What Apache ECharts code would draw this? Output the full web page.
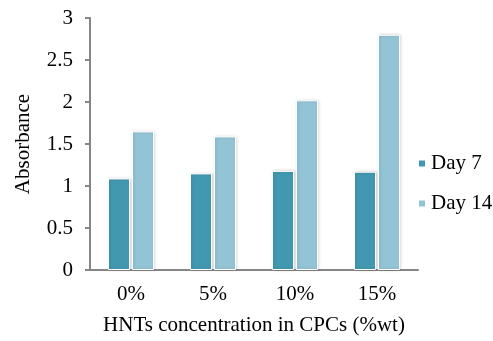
<!DOCTYPE html>
<html>
<head>
<meta charset="utf-8">
<script src="https://cdn.jsdelivr.net/npm/echarts@6/dist/echarts.min.js"></script>
<style>html,body{margin:0;padding:0;background:#fff}#c{width:493px;height:341px}</style>
</head>
<body>
<div id="c"></div>
<script>
var categories = ['0%', '5%', '10%', '15%'];
var day7 = [1.09, 1.15, 1.18, 1.17];
var day14 = [1.65, 1.59, 2.02, 2.80];
var seriesNames = ['Day 7', 'Day 14'];
var yTicks = {min: 0, max: 3, interval: 0.5};

var font = 'Liberation Serif';
var chart = echarts.init(document.getElementById('c'), null, {renderer: 'canvas'});
var barStyle = function (color) {
  return {color: color, borderColor: '#fff', borderWidth: 1,
          shadowColor: 'rgba(0,0,0,0.18)', shadowBlur: 3, shadowOffsetX: 1, shadowOffsetY: 0};
};
chart.setOption({
  animation: false,
  backgroundColor: '#fff',
  textStyle: {fontFamily: font, color: '#000'},
  grid: {left: 90, right: 75, top: 18, bottom: 71, containLabel: false},
  legend: {
    orient: 'vertical', left: 412, top: 148,
    itemWidth: 8, itemHeight: 8, itemGap: 19,
    icon: 'rect',
    textStyle: {fontFamily: font, fontSize: 21, color: '#000'},
    data: seriesNames
  },
  xAxis: {
    type: 'category', data: categories,
    name: 'HNTs concentration in CPCs (%wt)', nameLocation: 'middle', nameGap: 45,
    nameTextStyle: {fontFamily: font, fontSize: 21, color: '#000'},
    axisLine: {lineStyle: {color: '#868686', width: 2}},
    axisTick: {inside: true, length: 5, lineStyle: {color: '#868686', width: 2}},
    axisLabel: {fontFamily: font, fontSize: 21, color: '#000', margin: 14}
  },
  yAxis: {
    type: 'value', min: yTicks.min, max: yTicks.max, interval: yTicks.interval,
    name: 'Absorbance', nameLocation: 'middle', nameGap: 56,
    nameTextStyle: {fontFamily: font, fontSize: 21, color: '#000'},
    axisLine: {show: true, lineStyle: {color: '#868686', width: 2}},
    axisTick: {show: true, inside: false, length: 5, lineStyle: {color: '#868686', width: 2}},
    axisLabel: {fontFamily: font, fontSize: 21, color: '#000', margin: 17},
    splitLine: {show: false}
  },
  series: [
    {name: seriesNames[0], type: 'bar', data: day7, barWidth: 22, barGap: '9%',
     itemStyle: barStyle('#4298B0')},
    {name: seriesNames[1], type: 'bar', data: day14, barWidth: 22, barGap: '9%',
     itemStyle: barStyle('#93C4D5')}
  ]
});
</script>
</body>
</html>
